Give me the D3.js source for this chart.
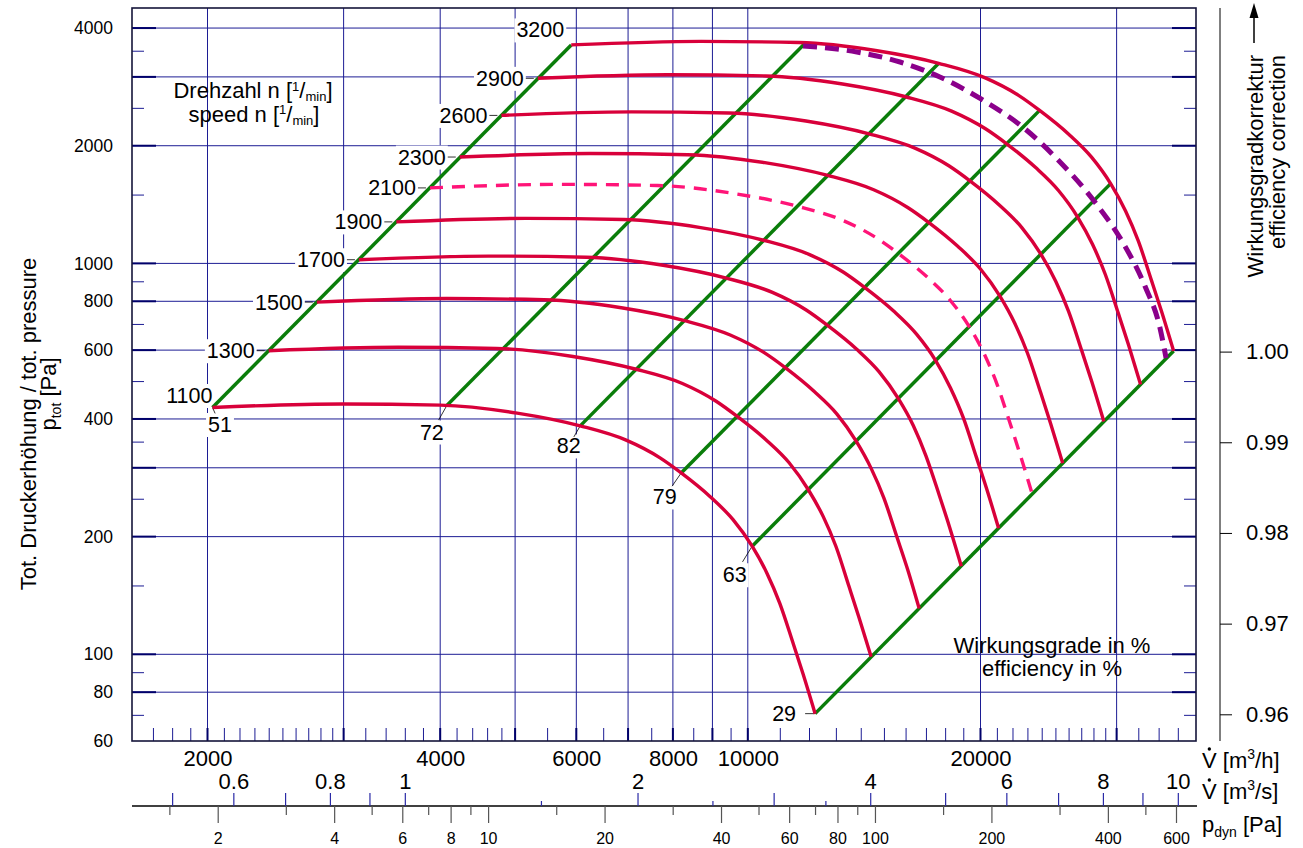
<!DOCTYPE html>
<html>
<head>
<meta charset="utf-8">
<script src="https://cdn.jsdelivr.net/npm/d3@7"></script>
<style>
  html, body { margin: 0; padding: 0; background: #fff; }
  svg { display: block; }
</style>
</head>
<body>
<svg id="chart" width="1303" height="848"></svg>
<script>
// ---------- Fan characteristic: total pressure [Pa] vs. volume flow [m³/h] ----------
const speeds = [1100, 1300, 1500, 1700, 1900, 2100, 2300, 2600, 2900, 3200];

const curve1100 = [[2030,428],[2990,437],[4000,434],[5030,414],[6070,384],[6960,353],[7700,318],[8200,291],[8940,253],[9570,221],[10130,189],[10590,161],[11000,135],[11440,107],[11790,89],[12220,70.5]];
const curve1300 = [[2400,598],[3530,610],[4730,606],[5940,578],[7170,536],[8230,493],[9100,444],[9690,406],[10570,353],[11310,309],[11970,264],[12520,225],[13000,189],[13520,149],[13930,124],[14440,98.5]];
const curve1500 = [[2770,796],[4080,813],[5450,807],[6860,770],[8280,714],[9490,656],[10500,591],[11180,541],[12190,470],[13050,411],[13810,351],[14440,299],[15000,251],[15600,199],[16080,166],[16660,131]];
const curve1700 = [[3140,1022],[4620,1044],[6180,1037],[7770,989],[9380,917],[10760,843],[11900,760],[12670,695],[13820,604],[14790,528],[15660,451],[16370,385],[17000,322],[17680,256],[18220,213],[18890,168]];
const curve1900 = [[3510,1277],[5160,1304],[6910,1295],[8690,1235],[10480,1146],[12020,1053],[13300,949],[14160,868],[15440,755],[16530,659],[17500,564],[18290,480],[19000,403],[19760,319],[20360,266],[21110,210]];
const curve2100 = [[3880,1560],[5710,1593],[7640,1582],[9600,1509],[11590,1400],[13290,1287],[14700,1159],[15650,1061],[17070,922],[18270,805],[19340,689],[20220,587],[21000,492],[21840,390],[22510,324],[23330,257]];
const curve2300 = [[4240,1871],[6250,1910],[8360,1897],[10520,1810],[12690,1679],[14550,1543],[16100,1390],[17150,1272],[18690,1106],[20010,966],[21180,826],[22140,704],[23000,590],[23920,468],[24650,389],[25550,308]];
const curve2600 = [[4800,2391],[7070,2441],[9450,2425],[11890,2313],[14350,2145],[16450,1972],[18200,1777],[19380,1626],[21130,1413],[22620,1235],[23940,1056],[25030,899],[26000,754],[27040,598],[27870,497],[28880,394]];
const curve2900 = [[5350,2975],[7880,3037],[10550,3017],[13260,2877],[16000,2669],[18350,2453],[20300,2210],[21620,2023],[23570,1758],[25230,1536],[26710,1314],[27920,1119],[29000,938],[30160,744],[31080,619],[32220,490]];
const curve3200 = [[5910,3622],[8700,3698],[11640,3673],[14630,3504],[17660,3250],[20250,2987],[22400,2691],[23850,2463],[26010,2141],[27840,1870],[29470,1600],[30810,1362],[32000,1142],[33280,905],[34300,753],[35550,597]];

// Efficiency lines (system parabolas), from the 1100 rpm to the 3200 rpm curve
const effLabels = [51, 72, 82, 79, 63, 29];
const effStart  = [[2030,428],[4080,433],[6070,384],[8200,291],[10130,189],[12220,70.5]];
const effEnd    = [[5910,3622],[11870,3665],[17660,3250],[23850,2463],[29470,1600],[35550,597]];

// Dashed limit curve below the top speed
const limitCurve = [[11790,3600],[13840,3474],[15740,3275],[17720,2998],[20030,2634],[22760,2220],[25200,1839],[28050,1444],[30580,1128],[32640,875],[34140,683],[34760,573]];

// Axis ticks
const pGrid       = [4000, 3000, 2000, 1000, 800, 600, 400, 300, 200, 100, 80];
const pMinor      = [3500, 2500, 1500, 900, 700, 500, 350, 250, 150, 90, 70];
const pLabels     = [4000, 2000, 1000, 800, 600, 400, 200, 100, 80, 60];
const vGrid       = [2000, 3000, 4000, 5000, 6000, 7000, 8000, 9000, 10000, 20000, 30000];
const vMinor      = [1700,1800,1900,2100,2200,2300,2400,2500,2600,2700,2800,2900,3200,3400,3600,3800,4200,4400,4600,4800,5500,6500,7500,8500,9500,
                     11000,12000,13000,14000,15000,16000,17000,18000,19000,21000,22000,23000,24000,25000,26000,27000,28000,29000,32000,34000,36000];
const vLabels     = [2000, 4000, 6000, 8000, 10000, 20000];
const qTicksLong  = [0.5, 0.6, 0.7, 0.8, 0.9, 1, 2, 3, 4, 5, 6, 7, 8, 9, 10];
const qTicksShort = [1.5, 2.5, 3.5];
const qLabels     = [0.6, 0.8, 1, 2, 4, 6, 8, 10];
const pdynMajor   = [2, 4, 6, 8, 10, 20, 40, 60, 80, 100, 200, 400, 600];
const pdynMinor   = [1.5, 3, 5, 7, 9, 15, 30, 50, 70, 90, 150, 300, 500];
const corrTicks   = [1.00, 0.99, 0.98, 0.97, 0.96];

// ---------- layout ----------
const FONT = '"Liberation Sans", Arial, Helvetica, sans-serif';
const P = { left: 132, right: 1196, top: 8, bottom: 741 };
const NAVY = "#1c1c94";
const RED = "#d8003a", PINK = "#ff1478", GREEN = "#0a7d0a", PURPLE = "#8b008b";

const svg = d3.select("#chart").attr("font-family", FONT);

const x   = d3.scaleLog().domain([2000, 20000]).range([207.5, 980.5]);
const y   = d3.scaleLog().domain([1000, 100]).range([263.4, 654.3]);
const xq  = d3.scaleLog().domain([1, 10]).range([x(3600), x(36000)]);
const xpd = d3.scaleLog().domain([2, 600]).range([217.7, 1176]);
const yc  = d3.scaleLinear().domain([0.96, 1.00]).range([714.3, 351.6]);

svg.append("rect").attr("width", 1303).attr("height", 848).attr("fill", "#fff");

// ---------- grid ----------
const grid = svg.append("g");
grid.selectAll("line.h").data(pGrid).join("line")
  .attr("x1", P.left).attr("x2", P.right)
  .attr("y1", d => y(d)).attr("y2", d => y(d))
  .attr("stroke", NAVY).attr("stroke-width", 1);
grid.selectAll("line.v").data(vGrid).join("line")
  .attr("x1", d => x(d)).attr("x2", d => x(d))
  .attr("y1", P.top).attr("y2", P.bottom)
  .attr("stroke", NAVY).attr("stroke-width", 1);

// heavier tick stubs on the frame where gridlines meet it
grid.selectAll("line.hl").data(pGrid).join("line")
  .attr("x1", P.left).attr("x2", P.left + 24)
  .attr("y1", d => y(d)).attr("y2", d => y(d))
  .attr("stroke", "#00006a").attr("stroke-width", 2);
grid.selectAll("line.hr").data(pGrid).join("line")
  .attr("x1", P.right - 24).attr("x2", P.right)
  .attr("y1", d => y(d)).attr("y2", d => y(d))
  .attr("stroke", "#00006a").attr("stroke-width", 2);
grid.selectAll("line.vb").data(vGrid).join("line")
  .attr("x1", d => x(d)).attr("x2", d => x(d))
  .attr("y1", P.bottom - 13).attr("y2", P.bottom)
  .attr("stroke", "#00006a").attr("stroke-width", 2);

// minor ticks inside the frame
function styleTicks(g) {
  g.select(".domain").remove();
  g.selectAll(".tick line").attr("stroke", NAVY).attr("stroke-width", 1);
}
svg.append("g").attr("transform", `translate(${P.left},0)`)
  .call(d3.axisLeft(y).tickValues(pMinor).tickSize(-12).tickFormat(""))
  .call(styleTicks);
svg.append("g").attr("transform", `translate(${P.right},0)`)
  .call(d3.axisRight(y).tickValues(pMinor).tickSize(-12).tickFormat(""))
  .call(styleTicks);
svg.append("g").attr("transform", `translate(0,${P.bottom})`)
  .call(d3.axisBottom(x).tickValues(vMinor).tickSize(-13).tickFormat(""))
  .call(styleTicks);

// ---------- labels with white backing ----------
const labelLayer = svg.append("g");
function boxedLabel(str, px, py, anchor, size) {
  const t = labelLayer.append("text")
    .attr("x", px).attr("y", py).attr("dy", "0.35em")
    .attr("text-anchor", anchor).attr("font-size", size).attr("fill", "#000")
    .text(str);
  const b = t.node().getBBox();
  labelLayer.insert("rect", () => t.node())
    .attr("x", b.x - 2).attr("y", b.y).attr("width", b.width + 4).attr("height", b.height)
    .attr("fill", "#fff");
  return t;
}
function leader(x1, y1, x2, y2) {
  labelLayer.append("line").attr("x1", x1).attr("y1", y1).attr("x2", x2).attr("y2", y2)
    .attr("stroke", "#000").attr("stroke-width", 0.8);
}

// Speed curves
const curves = [
  { n: 1100, pts: curve1100 }, { n: 1300, pts: curve1300 }, { n: 1500, pts: curve1500 },
  { n: 1700, pts: curve1700 }, { n: 1900, pts: curve1900 }, { n: 2100, pts: curve2100, dashed: true },
  { n: 2300, pts: curve2300 }, { n: 2600, pts: curve2600 }, { n: 2900, pts: curve2900 },
  { n: 3200, pts: curve3200 }
];

// speed labels sit left of each curve's first point
const speedOffset = { 1100: [0, -12], 3200: [-7, -15] };
curves.forEach(c => {
  const sx = x(c.pts[0][0]), sy = y(c.pts[0][1]);
  const off = speedOffset[c.n] || [-14, 0];
  boxedLabel(String(c.n), sx + off[0], sy + off[1], "end", 21.5);
  if (!speedOffset[c.n]) leader(sx - 12, sy, sx - 4, sy);
});

// efficiency labels at the lower end of each efficiency line
const effOffset = [[7.5, 17], [-15, 26.5], [-11.5, 20], [-16.5, 24], [-17.5, 28.5], [-31, 0]];
effLabels.forEach((e, i) => {
  const bx = x(effStart[i][0]), by = y(effStart[i][1]);
  const o = effOffset[i];
  boxedLabel(String(e), bx + o[0], by + o[1], "middle", 21.5);
  if (i === 5) leader(bx - 10, by, bx, by);
  else {
    const k = i === 0 ? 0.35 : 0.55;
    leader(bx, by, bx + o[0] * k, by + o[1] * k);
  }
});

// speed caption
function speedCaption(word, cx, by) {
  const t = labelLayer.append("text").attr("x", cx).attr("y", by).attr("text-anchor", "middle").attr("font-size", 22);
  t.append("tspan").text(word + " n [");
  t.append("tspan").attr("font-size", 13).attr("dy", -7.5).text("1");
  t.append("tspan").attr("dy", 7.5).text("/");
  t.append("tspan").attr("font-size", 13).attr("dy", 3).text("min");
  t.append("tspan").attr("dy", -3).text("]");
}
speedCaption("Drehzahl", 253, 98);
speedCaption("speed", 254, 121.5);

// ---------- marks ----------
const lineGen = d3.line().x(d => x(d[0])).y(d => y(d[1]));
const curveGen = d3.line().x(d => x(d[0])).y(d => y(d[1])).curve(d3.curveMonotoneX);

const marks = svg.append("g").attr("fill", "none").attr("stroke-linecap", "butt");

marks.selectAll("path.eff").data(effLabels.map((e, i) => [effStart[i], effEnd[i]])).join("path")
  .attr("d", lineGen).attr("stroke", GREEN).attr("stroke-width", 3.5);

marks.selectAll("path.speed").data(curves).join("path")
  .attr("d", c => curveGen(c.pts))
  .attr("stroke", c => c.dashed ? PINK : RED)
  .attr("stroke-width", 3.4)
  .attr("stroke-dasharray", c => c.dashed ? "13 9" : null);

marks.append("path").attr("d", curveGen(limitCurve))
  .attr("stroke", PURPLE).attr("stroke-width", 5).attr("stroke-dasharray", "14 8");

// efficiency caption
const effCap = svg.append("g").attr("font-size", 22).attr("text-anchor", "middle");
effCap.append("text").attr("x", 1052).attr("y", 652.5).text("Wirkungsgrade in %");
effCap.append("text").attr("x", 1052).attr("y", 676).text("efficiency in %");

// ---------- frame ----------
svg.append("rect").attr("x", P.left).attr("y", P.top)
  .attr("width", P.right - P.left).attr("height", P.bottom - P.top)
  .attr("fill", "none").attr("stroke", "#14143a").attr("stroke-width", 1.6);

// ---------- axes ----------
function fontAxis(g, size) {
  g.attr("font-family", FONT).attr("font-size", size);
  g.selectAll("text").attr("fill", "#000");
}

// pressure labels
const yAx = svg.append("g").attr("transform", `translate(${P.left},0)`)
  .call(d3.axisLeft(y).tickValues(pLabels).tickSize(0).tickPadding(19).tickFormat(d3.format("d")));
yAx.select(".domain").remove();
fontAxis(yAx, 17.5);

// volume flow m³/h labels
const xAx = svg.append("g").attr("transform", `translate(0,${P.bottom})`)
  .call(d3.axisBottom(x).tickValues(vLabels).tickSize(0).tickFormat(d3.format("d")));
xAx.select(".domain").remove();
xAx.selectAll("text").attr("y", 17).attr("dy", "0.35em");
fontAxis(xAx, 22);

// baseline shared by the m³/s and p_dyn scales
const AX2 = 806;
svg.append("line").attr("x1", P.left).attr("x2", P.right + 1).attr("y1", AX2).attr("y2", AX2)
  .attr("stroke", "#000").attr("stroke-width", 1.3);

const qAx = svg.append("g").attr("transform", `translate(0,${AX2})`)
  .call(d3.axisTop(xq).tickValues(qTicksLong.concat(qTicksShort)).tickSize(13)
    .tickFormat(d => qLabels.includes(d) ? d3.format("~g")(d) : ""));
qAx.select(".domain").remove();
qAx.selectAll(".tick line").attr("stroke", "#2a2aa6").attr("stroke-width", 1.2)
  .attr("y2", d => qTicksShort.includes(d) ? -5 : -13);
qAx.selectAll("text").attr("y", -24.5).attr("dy", "0.35em");
fontAxis(qAx, 22);

const pdAx = svg.append("g").attr("transform", `translate(0,${AX2})`)
  .call(d3.axisBottom(xpd).tickValues(pdynMajor.concat(pdynMinor)).tickSize(17)
    .tickFormat(d => pdynMajor.includes(d) ? String(d) : ""));
pdAx.select(".domain").remove();
pdAx.selectAll(".tick line").attr("stroke", "#555").attr("stroke-width", 1.2)
  .attr("y2", d => pdynMinor.includes(d) ? 9 : 17);
pdAx.selectAll("text").attr("y", 32).attr("dy", "0.35em");
fontAxis(pdAx, 16);

// efficiency correction scale on the right
const CX = 1220;
svg.append("line").attr("x1", CX).attr("x2", CX).attr("y1", P.top).attr("y2", P.bottom)
  .attr("stroke", "#000").attr("stroke-width", 1);
const cAx = svg.append("g").attr("transform", `translate(${CX},0)`)
  .call(d3.axisRight(yc).tickValues(corrTicks).tickSize(12).tickPadding(14).tickFormat(d3.format(".2f")));
cAx.select(".domain").remove();
cAx.selectAll(".tick line").attr("stroke", "#000");
fontAxis(cAx, 22);

// ---------- axis titles ----------
const leftT = svg.append("g").attr("font-size", 22).attr("text-anchor", "middle");
leftT.append("text").attr("transform", "translate(36,424) rotate(-90)")
  .text("Tot. Druckerhöhung / tot. pressure");
const lt2 = leftT.append("text").attr("transform", "translate(56,394) rotate(-90)");
lt2.append("tspan").text("p");
lt2.append("tspan").attr("font-size", 14).attr("dy", 5).text("tot");
lt2.append("tspan").attr("dy", -5).text(" [Pa]");

const rightT = svg.append("g").attr("font-size", 22).attr("text-anchor", "end");
rightT.append("text").attr("transform", "translate(1263,55) rotate(-90)").text("Wirkungsgradkorrektur");
rightT.append("text").attr("transform", "translate(1285,55) rotate(-90)").text("efficiency correction");
svg.append("line").attr("x1", 1254).attr("x2", 1254).attr("y1", 43).attr("y2", 14)
  .attr("stroke", "#000").attr("stroke-width", 1.5);
svg.append("path").attr("d", "M1254,3 L1249.5,18 L1258.5,18 Z").attr("fill", "#000");

// unit names at the lower right
function vDotLabel(px, py, unitTop) {
  const t = svg.append("text").attr("x", px).attr("y", py).attr("font-size", 22);
  t.append("tspan").text("V");
  t.append("tspan").text(" [m");
  t.append("tspan").attr("font-size", 14).attr("dy", -9).text("3");
  t.append("tspan").attr("dy", 9).text(unitTop + "]");
  const vw = t.node().getSubStringLength(0, 1);
  svg.append("circle").attr("cx", px + vw / 2).attr("cy", py - 19).attr("r", 1.7).attr("fill", "#000");
}
vDotLabel(1202, 768, "/h");
vDotLabel(1202, 799, "/s");
const pd = svg.append("text").attr("x", 1202).attr("y", 832).attr("font-size", 22);
pd.append("tspan").text("p");
pd.append("tspan").attr("font-size", 14).attr("dy", 5).text("dyn");
pd.append("tspan").attr("dy", -5).text(" [Pa]");
</script>
</body>
</html>
